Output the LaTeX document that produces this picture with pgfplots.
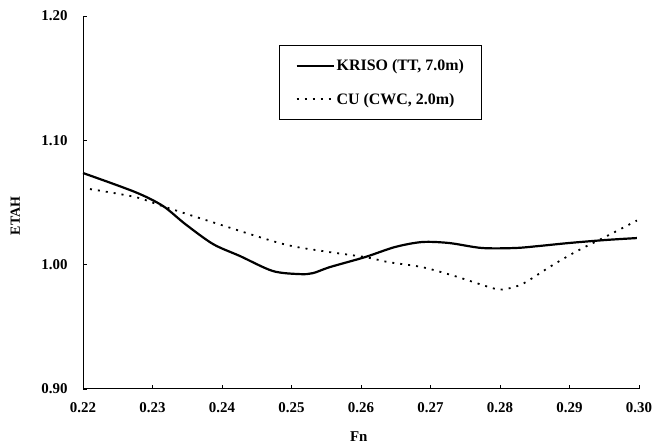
\documentclass[border=0pt]{standalone}
\usepackage{fontspec}
\setmainfont{Liberation Serif}
\usepackage{pgfplots}
\pgfplotsset{compat=1.18}
\begin{document}
\begin{tikzpicture}
\begin{axis}[
  scale only axis,
  width=556bp, height=373bp,
  xmin=0.22, xmax=0.30, ymin=0.90, ymax=1.20,
  axis lines=left,
  axis line style={-, line width=1bp},
  xtick={0.22,0.23,0.24,0.25,0.26,0.27,0.28,0.29,0.30},
  ytick={0.90,1.00,1.10,1.20},
  tick align=inside,
  major tick length=4bp,
  tick style={line width=0.8bp, black},
  /pgf/number format/.cd, fixed, fixed zerofill, precision=2, assume math mode=true,
  /pgfplots/.cd,
  ticklabel style={font=\fontsize{15}{17}\selectfont\bfseries},
  xticklabel style={yshift=-10bp},
  yticklabel style={xshift=-12bp},
  xlabel={Fn}, ylabel={ETAH},
  every axis x label/.style={at={(rel axis cs:0.496,-0.128)}, anchor=center, font=\fontsize{15}{17}\selectfont\bfseries},
  every axis y label/.style={at={(rel axis cs:-0.122,0.464)}, anchor=center, rotate=90, font=\fontsize{14}{16}\selectfont\bfseries},
  clip=false,
  legend style={at={(rel axis cs:0.3525,0.9223)}, anchor=north west,
    draw=black, line width=1bp, inner xsep=16bp, inner ysep=12bp, row sep=17bp,
    font=\fontsize{16}{18}\selectfont\bfseries,
    nodes={inner sep=2bp}},
  legend cell align=left,
  legend image code/.code={\draw[#1] (0bp,0bp) -- (37bp,0bp);},
]
\addplot[black, line width=2.2bp, smooth, tension=0.5] coordinates {
(0.2200,1.0737) (0.2275,1.0584) (0.2315,1.0472) (0.2347,1.0327) (0.2387,1.0166)
(0.2426,1.0069) (0.2473,0.9949) (0.2512,0.9924) (0.2531,0.9932) (0.2555,0.9980)
(0.2606,1.0061) (0.2649,1.0142) (0.2688,1.0182) (0.2727,1.0174) (0.2774,1.0134)
(0.2822,1.0134) (0.2856,1.0150) (0.2899,1.0174) (0.2951,1.0198) (0.2997,1.0214)
};
\addlegendentry{KRISO (TT, 7.0m)}
\addplot[black, line width=1.8bp, dash pattern=on 2bp off 6bp, smooth, tension=0.5] coordinates {
(0.2210,1.0608) (0.2275,1.0544) (0.2315,1.0470) (0.2390,1.0335) (0.2488,1.0166)
(0.2550,1.0105) (0.2606,1.0061) (0.2640,1.0020) (0.2688,0.9980) (0.2735,0.9908)
(0.2784,0.9820) (0.2803,0.9800) (0.2832,0.9844) (0.2871,0.9980) (0.2908,1.0101)
(0.2951,1.0222) (0.2997,1.0355)
};
\addlegendentry{CU (CWC, 2.0m)}
\coordinate (bl) at (rel axis cs:-0.1493,-0.1582);
\coordinate (tr) at (rel axis cs:1.0234,1.0429);
\end{axis}
\pgfresetboundingbox
\path[use as bounding box] (bl) rectangle (tr);
\end{tikzpicture}
\end{document}
